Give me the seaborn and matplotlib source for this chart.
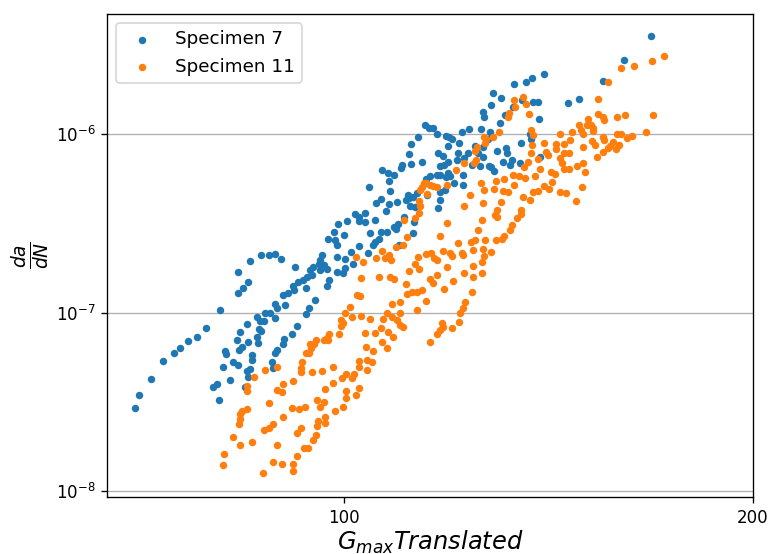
import matplotlib
matplotlib.use("Agg")
import matplotlib.pyplot as plt
import matplotlib.ticker as mticker
import seaborn as sns

series_labels = ["Specimen 7", "Specimen 11"]
series_colors = ["#1f77b4", "#ff7f0e"]
x_label = r"$G_{max} Translated$"
y_label = r"$\frac{da}{dN}$"
xtick_values = [100, 200]
xtick_labels = ["100", "200"]

spec7_gmax = [
    70.15, 70.6, 72.1, 73.65, 75.0, 75.76, 76.8, 77.9, 79.1, 81.1,
    83.5, 84.3, 85.0, 83.5, 85.3, 86.9, 88.1, 88.9, 89.9, 92.0,
    91.8, 91.9, 92.5, 93.3, 93.7, 94.0, 90.2, 90.9, 90.5, 88.9,
    89.3, 86.3, 87.5, 88.2, 93.7, 94.2, 88.9, 80.1, 80.6, 80.9,
    81.5, 82.5, 81.8, 81.9, 82.9, 83.5, 83.4, 83.8, 83.7, 84.1,
    84.8, 85.0, 84.5, 84.9, 85.3, 85.0, 85.5, 85.6, 86.4, 86.3,
    86.6, 86.9, 86.8, 87.4, 88.5, 88.6, 89.0, 89.3, 90.2, 90.4,
    91.5, 92.4, 95.2, 97.1, 96.4, 96.0, 95.8, 96.6, 94.9, 94.4,
    94.7, 96.0, 97.2, 98.8, 100.2, 99.9, 97.5, 98.9, 100.1, 101.6,
    102.6, 101.2, 104.1, 105.1, 105.4, 109.7, 98.3, 97.3, 98.5, 98.8,
    100.0, 99.0, 100.5, 101.9, 102.6, 103.6, 102.5, 103.7, 105.4, 104.6,
    106.4, 107.6, 106.2, 108.9, 109.5, 109.2, 110.8, 112.6, 112.5, 104.3,
    108.1, 106.5, 105.5, 108.0, 109.4, 107.3, 111.4, 111.7, 111.0, 111.8,
    112.5, 112.7, 113.2, 106.7, 107.7, 108.8, 107.9, 110.1, 110.3, 112.0,
    114.1, 111.7, 112.1, 113.3, 114.8, 115.5, 116.3, 117.0, 118.8, 119.4,
    120.1, 121.5, 122.2, 123.5, 119.3, 124.8, 126.6, 126.1, 128.0, 127.6,
    126.5, 126.8, 128.3, 128.8, 130.4, 131.4, 130.2, 133.2, 133.3, 136.1,
    137.5, 140.4, 135.3, 137.8, 138.9, 139.2, 146.1, 148.9, 155.1, 160.7,
    168.2, 135.0, 137.1, 137.3, 139.5, 134.8, 132.9, 132.6, 131.0, 129.5,
    131.5, 131.8, 126.5, 129.0, 128.4, 127.9, 126.0, 124.2, 123.3, 121.1,
    122.6, 121.3, 125.4, 118.3, 117.2, 117.7, 119.3, 118.5, 117.7, 117.0,
    115.6, 115.0, 118.8, 119.3, 119.7, 122.4, 120.6, 122.3, 118.6, 117.6,
    115.2, 117.7, 117.2,
]
spec7_dadn = [
    2.92e-8, 3.46e-8, 4.25e-8, 5.36e-8, 5.94e-8, 6.34e-8, 6.93e-8, 7.30e-8, 8.23e-8, 1.03e-7,
    1.28e-7, 1.37e-7, 1.48e-7, 1.68e-7, 1.94e-7, 2.10e-7, 2.09e-7, 2.13e-7, 1.99e-7, 1.80e-7,
    1.41e-7, 1.34e-7, 1.49e-7, 1.52e-7, 1.37e-7, 1.59e-7, 1.25e-7, 1.28e-7, 1.10e-7, 1.11e-7,
    1.06e-7, 9.41e-8, 9.91e-8, 9.91e-8, 9.76e-8, 1.06e-7, 9.29e-8, 3.82e-8, 3.97e-8, 3.24e-8,
    4.96e-8, 4.20e-8, 6.10e-8, 5.87e-8, 5.29e-8, 5.11e-8, 7.02e-8, 7.82e-8, 6.18e-8, 6.42e-8,
    8.63e-8, 6.82e-8, 3.82e-8, 4.71e-8, 4.82e-8, 4.38e-8, 5.79e-8, 5.43e-8, 6.78e-8, 7.27e-8,
    8.06e-8, 7.92e-8, 9.01e-8, 9.01e-8, 5.31e-8, 4.92e-8, 5.92e-8, 6.18e-8, 6.67e-8, 7.09e-8,
    7.56e-8, 8.41e-8, 1.17e-7, 1.40e-7, 2.10e-7, 1.97e-7, 1.87e-7, 1.85e-7, 1.81e-7, 1.73e-7,
    1.62e-7, 1.72e-7, 1.75e-7, 1.69e-7, 1.77e-7, 1.66e-7, 1.52e-7, 2.04e-7, 2.00e-7, 1.87e-7,
    2.36e-7, 2.18e-7, 2.16e-7, 2.39e-7, 2.49e-7, 2.39e-7, 2.84e-7, 2.58e-7, 2.55e-7, 2.39e-7,
    2.73e-7, 3.13e-7, 3.26e-7, 3.57e-7, 3.44e-7, 3.60e-7, 3.27e-7, 3.23e-7, 3.30e-7, 2.78e-7,
    2.83e-7, 2.82e-7, 2.59e-7, 3.03e-7, 3.12e-7, 2.93e-7, 3.42e-7, 3.20e-7, 2.78e-7, 5.07e-7,
    4.81e-7, 4.33e-7, 4.11e-7, 4.04e-7, 4.15e-7, 3.72e-7, 4.55e-7, 4.36e-7, 4.27e-7, 3.97e-7,
    4.42e-7, 3.92e-7, 4.69e-7, 6.25e-7, 6.03e-7, 5.88e-7, 5.43e-7, 6.49e-7, 6.71e-7, 6.76e-7,
    6.94e-7, 7.71e-7, 8.77e-7, 9.66e-7, 1.12e-6, 1.08e-6, 1.08e-6, 1.00e-6, 9.74e-7, 9.56e-7,
    9.38e-7, 8.87e-7, 1.02e-6, 1.07e-6, 8.57e-7, 8.53e-7, 8.49e-7, 1.06e-6, 1.02e-6, 9.38e-7,
    1.33e-6, 1.24e-6, 1.45e-6, 1.70e-6, 1.59e-6, 1.28e-6, 1.15e-6, 1.42e-6, 1.91e-6, 1.95e-6,
    2.05e-6, 2.16e-6, 1.55e-6, 1.52e-6, 1.51e-6, 1.21e-6, 1.50e-6, 1.58e-6, 1.97e-6, 2.59e-6,
    3.54e-6, 8.96e-7, 1.00e-6, 9.38e-7, 7.46e-7, 6.85e-7, 7.15e-7, 6.71e-7, 6.97e-7, 8.00e-7,
    8.40e-7, 7.80e-7, 7.39e-7, 6.21e-7, 6.56e-7, 6.66e-7, 6.62e-7, 6.73e-7, 7.78e-7, 7.15e-7,
    7.37e-7, 7.86e-7, 7.80e-7, 7.56e-7, 7.80e-7, 6.59e-7, 6.94e-7, 6.71e-7, 5.86e-7, 5.86e-7,
    5.80e-7, 5.56e-7, 5.74e-7, 6.07e-7, 5.84e-7, 5.89e-7, 5.34e-7, 5.18e-7, 4.86e-7, 4.75e-7,
    4.55e-7, 4.27e-7, 3.84e-7,
]

spec11_gmax = [
    87.5, 89.3, 85.8, 84.8, 84.9, 89.2, 90.2, 90.1, 91.7, 93.1,
    93.0, 93.0, 93.8, 88.0, 91.6, 92.6, 93.6, 84.8, 84.2, 83.9,
    83.8, 83.7, 90.2, 88.7, 88.0, 87.4, 93.0, 92.3, 82.8, 85.6,
    83.9, 89.3, 93.5, 94.1, 81.6, 81.5, 88.7, 90.1, 91.8, 92.4,
    91.8, 87.2, 94.7, 96.3, 98.2, 99.6, 100.3, 98.2, 96.8, 95.5,
    96.1, 96.7, 96.8, 96.8, 95.7, 95.6, 95.4, 94.9, 98.5, 99.9,
    100.3, 100.3, 94.2, 94.6, 95.0, 95.4, 94.4, 96.6, 97.1, 97.5,
    97.4, 99.1, 99.5, 99.8, 99.5, 100.1, 101.0, 103.0, 106.1, 108.1,
    108.9, 111.7, 112.8, 113.6, 111.0, 111.3, 112.2, 113.1, 114.1, 115.0,
    113.1, 110.0, 108.4, 115.7, 116.2, 117.0, 118.5, 119.1, 120.2, 122.6,
    124.4, 124.5, 126.3, 124.2, 122.8, 122.3, 121.7, 121.6, 120.0, 118.0,
    118.3, 117.7, 117.0, 115.7, 102.2, 102.8, 101.4, 103.0, 104.5, 107.6,
    108.5, 110.0, 109.4, 109.9, 110.6, 106.9, 106.5, 107.7, 108.7, 105.4,
    106.6, 107.5, 103.6, 103.8, 105.0, 103.9, 104.8, 102.5, 102.6, 103.9,
    101.8, 101.3, 102.5, 102.0, 126.8, 127.3, 126.9, 124.9, 125.2, 125.1,
    124.6, 122.6, 121.0, 119.0, 114.5, 115.0, 115.7, 116.3, 117.0, 114.1,
    113.7, 115.2, 113.5, 113.7, 113.6, 112.8, 110.8, 111.2, 110.5, 109.2,
    126.1, 123.8, 126.6, 122.6, 126.3, 119.0, 125.6, 124.1, 124.9, 127.0,
    117.7, 121.4, 122.1, 122.4, 124.5, 126.6, 126.7, 126.4, 118.3, 119.7,
    120.0, 114.9, 115.9, 116.5, 117.0, 113.4, 106.6, 108.0, 108.3, 107.2,
    105.6, 103.2, 102.0, 171.9, 168.4, 163.6, 160.0, 156.5, 153.7, 168.7,
    166.8, 161.1, 158.9, 153.8, 155.2, 155.5, 151.3, 149.0, 150.9, 152.0,
    152.5, 152.4, 149.4, 149.9, 147.2, 144.1, 162.8, 161.5, 159.9, 158.8,
    155.2, 155.4, 152.2, 153.1, 157.7, 157.0, 159.4, 158.5, 156.5, 155.0,
    153.5, 149.9, 146.7, 145.2, 146.5, 145.1, 144.2, 144.6, 145.1, 146.5,
    148.4, 150.0, 150.4, 149.7, 148.1, 145.8, 144.1, 143.2, 143.2, 141.3,
    140.9, 140.4, 133.5, 135.4, 136.2, 136.9, 133.6, 132.3, 132.1, 130.1,
    128.7, 137.4, 137.7, 137.6, 137.2, 136.7, 135.7, 138.9, 139.5, 138.2,
    133.2, 134.5, 135.9, 133.5, 142.0, 143.0, 142.2, 140.4, 141.5, 139.0,
    137.8, 135.5, 137.0, 131.2, 129.4, 128.9, 126.8, 131.0, 132.0, 130.5,
    129.7, 129.2, 129.5, 134.9, 135.0, 134.0, 133.0, 132.5, 131.2, 130.8,
    129.4, 128.4,
]
spec11_dadn = [
    4.79e-8, 4.98e-8, 4.36e-8, 3.90e-8, 3.65e-8, 3.69e-8, 3.97e-8, 3.58e-8, 4.16e-8, 5.29e-8,
    4.92e-8, 4.63e-8, 5.92e-8, 3.13e-8, 2.93e-8, 2.89e-8, 2.96e-8, 2.89e-8, 2.80e-8, 2.71e-8,
    2.53e-8, 2.37e-8, 2.59e-8, 2.37e-8, 2.26e-8, 2.20e-8, 2.26e-8, 2.11e-8, 2.02e-8, 1.88e-8,
    1.80e-8, 1.81e-8, 1.74e-8, 1.75e-8, 1.61e-8, 1.40e-8, 1.46e-8, 1.41e-8, 1.42e-8, 1.58e-8,
    1.29e-8, 1.26e-8, 4.67e-8, 4.71e-8, 4.98e-8, 4.30e-8, 4.52e-8, 4.05e-8, 3.74e-8, 3.23e-8,
    2.97e-8, 3.17e-8, 2.60e-8, 2.42e-8, 2.46e-8, 2.30e-8, 2.05e-8, 1.94e-8, 2.79e-8, 2.97e-8,
    3.62e-8, 3.33e-8, 5.91e-8, 6.34e-8, 6.63e-8, 7.02e-8, 6.67e-8, 6.98e-8, 7.18e-8, 7.62e-8,
    7.02e-8, 7.54e-8, 8.39e-8, 8.70e-8, 9.09e-8, 1.00e-7, 1.08e-7, 1.56e-7, 1.59e-7, 1.59e-7,
    1.54e-7, 1.71e-7, 1.86e-7, 1.75e-7, 1.44e-7, 1.27e-7, 1.30e-7, 1.31e-7, 1.34e-7, 1.16e-7,
    1.03e-7, 1.14e-7, 1.12e-7, 1.54e-7, 1.46e-7, 1.62e-7, 1.36e-7, 1.79e-7, 1.51e-7, 1.67e-7,
    1.82e-7, 1.59e-7, 1.67e-7, 1.30e-7, 1.14e-7, 1.06e-7, 9.99e-8, 8.89e-8, 8.23e-8, 8.71e-8,
    8.34e-8, 7.99e-8, 7.59e-8, 6.87e-8, 1.25e-7, 1.24e-7, 9.41e-8, 9.57e-8, 9.17e-8, 1.00e-7,
    9.41e-8, 9.99e-8, 9.09e-8, 8.52e-8, 8.34e-8, 9.17e-8, 8.17e-8, 7.82e-8, 7.33e-8, 7.66e-8,
    6.82e-8, 6.31e-8, 7.66e-8, 6.39e-8, 6.10e-8, 5.43e-8, 5.27e-8, 5.38e-8, 4.94e-8, 4.77e-8,
    4.53e-8, 4.30e-8, 3.77e-8, 3.46e-8, 9.56e-7, 9.38e-7, 8.87e-7, 7.98e-7, 8.49e-7, 7.15e-7,
    6.85e-7, 6.85e-7, 6.31e-7, 5.18e-7, 5.30e-7, 5.30e-7, 5.18e-7, 5.11e-7, 5.07e-7, 5.07e-7,
    4.86e-7, 4.60e-7, 4.22e-7, 3.93e-7, 3.60e-7, 3.37e-7, 3.28e-7, 2.66e-7, 2.39e-7, 2.32e-7,
    5.34e-7, 4.55e-7, 4.09e-7, 3.95e-7, 3.30e-7, 3.17e-7, 2.90e-7, 2.49e-7, 2.55e-7, 2.55e-7,
    2.69e-7, 2.44e-7, 2.16e-7, 2.10e-7, 2.23e-7, 2.26e-7, 2.06e-7, 1.92e-7, 2.22e-7, 2.16e-7,
    2.06e-7, 2.13e-7, 2.15e-7, 2.01e-7, 1.97e-7, 2.04e-7, 2.22e-7, 2.10e-7, 1.97e-7, 2.01e-7,
    2.01e-7, 1.93e-7, 2.04e-7, 2.73e-6, 2.56e-6, 2.40e-6, 2.34e-6, 1.96e-6, 1.58e-6, 1.27e-6,
    1.03e-6, 1.28e-6, 1.25e-6, 1.29e-6, 1.25e-6, 1.20e-6, 1.22e-6, 1.13e-6, 1.12e-6, 1.13e-6,
    1.08e-6, 1.04e-6, 1.05e-6, 1.00e-6, 1.02e-6, 9.96e-7, 9.78e-7, 9.47e-7, 1.00e-6, 1.00e-6,
    9.66e-7, 9.26e-7, 9.10e-7, 8.64e-7, 9.05e-7, 8.55e-7, 8.73e-7, 8.22e-7, 8.37e-7, 7.97e-7,
    7.46e-7, 8.42e-7, 9.29e-7, 8.76e-7, 7.80e-7, 7.80e-7, 7.31e-7, 6.85e-7, 6.35e-7, 6.35e-7,
    6.63e-7, 6.85e-7, 6.13e-7, 5.04e-7, 4.21e-7, 4.69e-7, 4.75e-7, 8.76e-7, 8.24e-7, 7.58e-7,
    7.96e-7, 8.87e-7, 1.55e-6, 1.61e-6, 1.47e-6, 1.29e-6, 1.42e-6, 1.31e-6, 1.25e-6, 1.02e-6,
    9.66e-7, 1.05e-6, 9.87e-7, 8.68e-7, 7.83e-7, 6.99e-7, 6.56e-7, 7.24e-7, 6.35e-7, 5.84e-7,
    5.93e-7, 5.78e-7, 5.67e-7, 5.18e-7, 6.15e-7, 5.95e-7, 5.41e-7, 5.11e-7, 4.89e-7, 4.80e-7,
    4.71e-7, 4.46e-7, 4.25e-7, 5.59e-7, 5.42e-7, 4.92e-7, 4.86e-7, 4.80e-7, 4.71e-7, 4.14e-7,
    3.75e-7, 3.54e-7, 3.41e-7, 3.73e-7, 3.58e-7, 3.37e-7, 3.11e-7, 2.90e-7, 2.68e-7, 2.57e-7,
    2.54e-7, 2.18e-7,
]

plt.rcParams["font.family"] = ["DejaVu Sans"]

fig = plt.figure(figsize=(772 / 120, 554 / 120), dpi=120)
ax = fig.add_axes([107 / 772, 1 - 497 / 554, 646 / 772, 483 / 554])

series = [(spec7_gmax, spec7_dadn), (spec11_gmax, spec11_dadn)]
for (gx, gy), lab, col in zip(series, series_labels, series_colors):
    sns.scatterplot(x=gx, y=gy, color=col, label=lab, s=20, linewidth=0,
                    ax=ax, zorder=3)

ax.set_xscale("log")
ax.set_yscale("log")
ax.set_xlim(66.93, 200)
ax.set_ylim(9.26e-9, 4.70e-6)
ax.xaxis.set_major_locator(mticker.FixedLocator(xtick_values))
ax.xaxis.set_major_formatter(mticker.FixedFormatter(xtick_labels))
ax.xaxis.set_minor_locator(mticker.NullLocator())
ax.yaxis.set_minor_locator(mticker.NullLocator())
ax.yaxis.grid(True, color="#b0b0b0", linewidth=0.8)
ax.xaxis.grid(False)
ax.set_axisbelow(True)
ax.tick_params(labelsize=10)
ax.set_xlabel(x_label, fontsize=14.5, labelpad=1)
ax.set_ylabel(y_label, fontsize=16, labelpad=2)
ax.legend(loc="upper left", fontsize=11)

fig.savefig("out.png", dpi=120)
